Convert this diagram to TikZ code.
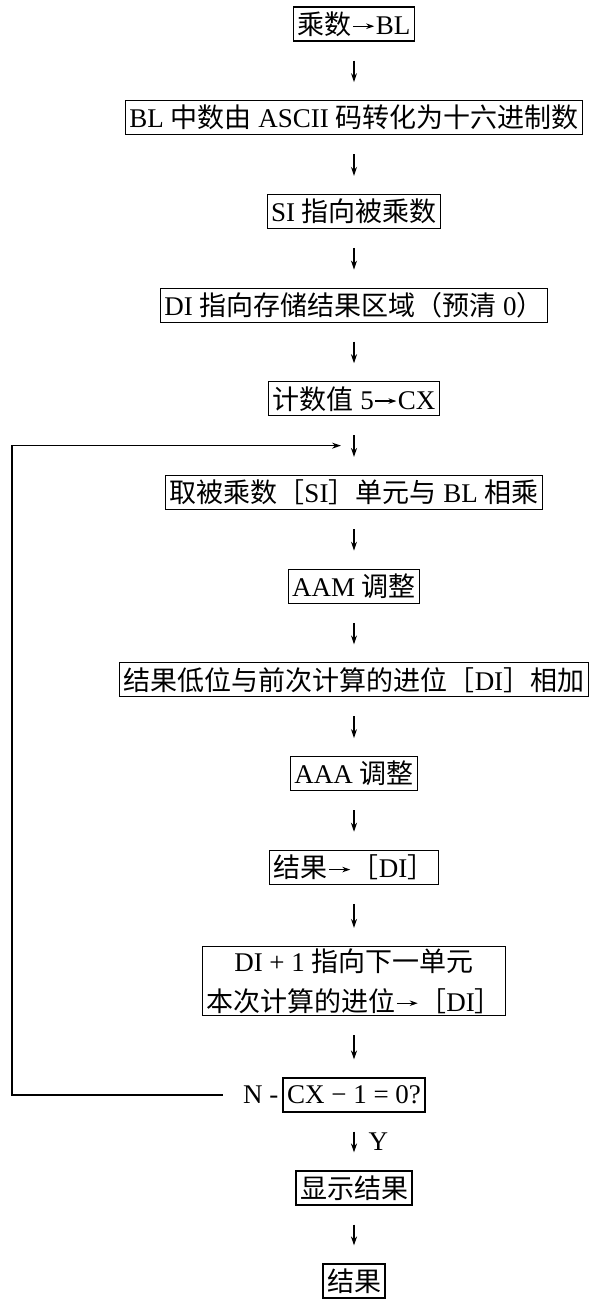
\documentclass[tikz,border=0pt]{standalone}
\usepackage{fontspec}
\setmainfont{Liberation Serif}
\newfontfamily\cjk{Noto Sans CJK SC}
\newcommand{\zh}[1]{{\cjk #1}}
\newcommand{\rarr}{\kern1pt\tikz[baseline={(0pt,-8pt)}]\draw[line width=1.1pt,-{Stealth[length=8pt,width=5.5pt]}] (0pt,0pt) -- (21pt,0pt);\kern1pt}
\usetikzlibrary{arrows.meta,calc}
\begin{document}
\begin{tikzpicture}[x=1pt,y=-1pt,
  pbox/.style={draw, line width=1.1pt, inner xsep=4pt, inner ysep=2pt, minimum height=34pt,
    font=\fontsize{27}{36}\selectfont, align=center},
  arr/.style={line width=1.2pt, -{Stealth[length=9pt,width=6pt]}, shorten <=19pt, shorten >=18pt},
  loopline/.style={line width=1.3pt},
  lbl/.style={font=\fontsize{27}{36}\selectfont, inner sep=0pt}]
\useasboundingbox (0,0) rectangle (590,1299);
\node[pbox] (b1) at (354,24) {\zh{乘数}\rarr BL};
\node[pbox] (b2) at (354,117.7) {BL \zh{中数由} ASCII \zh{码转化为十六进制数}};
\node[pbox] (b3) at (354,211.4) {SI \zh{指向被乘数}};
\node[pbox] (b4) at (354,305.1) {DI \zh{指向存储结果区域（预清} 0\zh{）}};
\node[pbox] (b5) at (354,398.8) {\zh{计数值} 5\rarr CX};
\node[pbox] (b6) at (354,492.5) {\zh{取被乘数［}SI\zh{］单元与} BL \zh{相乘}};
\node[pbox] (b7) at (354,586.2) {AAM \zh{调整}};
\node[pbox] (b8) at (354,679.9) {\zh{结果低位与前次计算的进位［}DI\zh{］相加}};
\node[pbox] (b9) at (354,773.6) {AAA \zh{调整}};
\node[pbox] (b10) at (354,867.3) {\zh{结果}\rarr\zh{［}DI\zh{］}};
\node[pbox, font=\fontsize{27}{40}\selectfont] (b11) at (354,981) {DI + 1 \zh{指向下一单元}\\\zh{本次计算的进位}\rarr\zh{［}DI\zh{］}};
\node[pbox] (b12) at (354,1095) {CX − 1 = 0?};
\node[pbox] (b13) at (354,1188) {\zh{显示结果}};
\node[pbox] (b14) at (354,1281) {\zh{结果}};
\node[lbl, anchor=east] (nlab) at ([xshift=-4pt]b12.west) {N -};
\coordinate (lx) at (12,0);
\coordinate (loopin) at ($(b5.south)!0.5!(b6.north)+(-13,0)$);
\foreach \a/\b in {b1/b2,b2/b3,b3/b4,b4/b5,b5/b6,b6/b7,b7/b8,b8/b9,b9/b10,b10/b11,b11/b12,b13/b14}
  \draw[arr] (\a) -- (\b);
\draw[arr] (b12) -- node[lbl, anchor=west, xshift=14pt] {Y} (b13);
\draw[loopline, -{Stealth[length=9pt,width=6pt]}, shorten <=20pt] (nlab.west) -- (nlab.west -| lx) |- (loopin);
\end{tikzpicture}
\end{document}
